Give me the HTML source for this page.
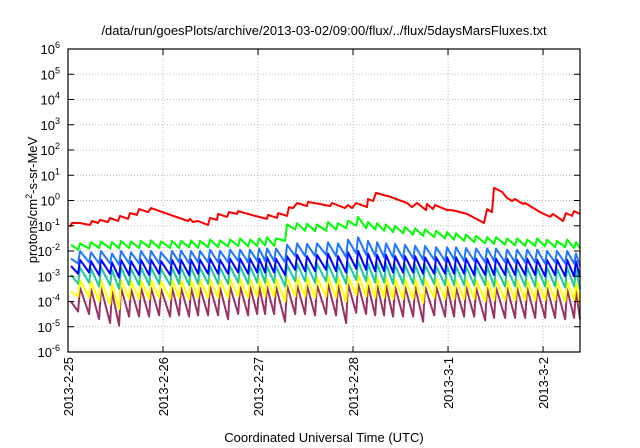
<!DOCTYPE html>
<html><head><meta charset="utf-8"><style>
html,body{margin:0;padding:0;background:#fff;}
svg{display:block;font-family:"Liberation Sans",sans-serif;}
</style></head><body>
<svg id="chart" width="640" height="448" viewBox="0 0 640 448" xmlns="http://www.w3.org/2000/svg">
<rect width="640" height="448" fill="#fff"/>
<text x="324" y="35" font-size="13" text-anchor="middle" fill="#000">/data/run/goesPlots/archive/2013-03-02/09:00/flux/../flux/5daysMarsFluxes.txt</text>
<g id="grid"></g>
<g id="series"></g>
<rect x="68" y="49" width="512" height="303" fill="none" stroke="#000" stroke-width="1.2"/>
<g id="axes"></g>
<text transform="translate(37,200) rotate(-90)" font-size="13" text-anchor="middle">protons/cm<tspan baseline-shift="super" font-size="9">2</tspan>-s-sr-MeV</text>
<text x="324" y="442" font-size="13" text-anchor="middle">Coordinated Universal Time (UTC)</text>
</svg>
<script>
const dayLabels = ["2013-2-25","2013-2-26","2013-2-27","2013-2-28","2013-3-1","2013-3-2"];
const decadeExps = [-6,-5,-4,-3,-2,-1,0,1,2,3,4,5,6];
const redDays = [0.021,0.042,0.126,0.232,0.253,0.316,0.337,0.421,0.442,0.526,0.547,0.632,0.653,0.726,0.747,0.842,0.874,1.263,1.284,1.316,1.368,1.474,1.495,1.568,1.579,1.674,1.695,1.779,1.789,1.968,2.095,2.105,2.2,2.211,2.305,2.326,2.368,2.411,2.516,2.526,2.653,2.758,2.779,2.832,2.916,2.947,2.989,3.032,3.147,3.158,3.211,3.242,3.358,3.368,3.568,3.621,3.674,3.768,3.779,3.842,3.863,3.989,4.042,4.126,4.2,4.379,4.411,4.463,4.484,4.568,4.621,4.674,4.705,4.789,4.811,4.968,5.074,5.105,5.211,5.242,5.305,5.326,5.389];
const redLog = [-1.05,-0.89,-0.89,-0.97,-0.81,-0.89,-0.77,-0.85,-0.69,-0.81,-0.61,-0.73,-0.50,-0.57,-0.34,-0.46,-0.30,-0.81,-0.73,-0.85,-0.81,-0.97,-0.69,-0.77,-0.53,-0.65,-0.46,-0.53,-0.42,-0.61,-0.73,-0.57,-0.69,-0.50,-0.61,-0.26,-0.30,-0.10,-0.22,-0.06,-0.14,-0.22,-0.10,-0.18,-0.30,-0.18,-0.30,-0.10,-0.26,0.06,-0.02,0.30,0.18,0.18,-0.10,-0.26,-0.10,-0.38,-0.14,-0.34,-0.18,-0.38,-0.38,-0.46,-0.53,-0.89,-0.34,-0.46,0.50,0.34,0.10,-0.02,0.06,-0.14,-0.10,-0.46,-0.65,-0.53,-0.81,-0.50,-0.61,-0.42,-0.53];
const toothDays = [0.032,0.126,0.242,0.347,0.463,0.558,0.663,0.768,0.874,0.979,1.095,1.189,1.295,1.389,1.495,1.6,1.705,1.811,1.916,2.011,2.095,2.189,2.305,2.411,2.516,2.621,2.737,2.842,2.947,3.053,3.158,3.253,3.347,3.442,3.547,3.653,3.758,3.874,3.989,4.084,4.189,4.295,4.411,4.505,4.621,4.726,4.832,4.937,5.042,5.147,5.253,5.347];
const endDay = 5.389;
const greenPeaks = [-1.75,-1.7,-1.65,-1.62,-1.65,-1.6,-1.62,-1.6,-1.58,-1.62,-1.6,-1.6,-1.58,-1.6,-1.55,-1.58,-1.55,-1.5,-1.55,-1.5,-1.45,-1.5,-0.95,-0.9,-0.92,-0.95,-0.85,-0.9,-0.8,-0.65,-0.85,-0.9,-0.95,-1.0,-1.05,-1.1,-1.15,-1.2,-1.25,-1.3,-1.35,-1.4,-1.45,-1.45,-1.5,-1.5,-1.55,-1.5,-1.55,-1.6,-1.55,-1.65];
const greenTroughs = [-1.95,-1.9,-1.88,-1.9,-1.9,-1.88,-1.88,-1.85,-1.88,-1.88,-1.88,-1.85,-1.88,-1.85,-1.85,-1.82,-1.8,-1.82,-1.8,-1.78,-1.8,-1.6,-1.15,-1.2,-1.22,-1.2,-1.15,-1.1,-1.0,-1.1,-1.15,-1.2,-1.25,-1.3,-1.35,-1.4,-1.45,-1.5,-1.55,-1.6,-1.65,-1.7,-1.72,-1.75,-1.78,-1.8,-1.8,-1.82,-1.85,-1.85,-1.88,-1.9];
const ltBluePeaks = [-2.3,-2.0,-2.05,-2.0,-2.1,-2.0,-2.05,-2.0,-2.0,-2.05,-2.0,-1.98,-2.0,-2.0,-1.95,-2.0,-1.95,-1.95,-1.95,-1.9,-1.9,-1.9,-1.75,-1.7,-1.72,-1.7,-1.65,-1.7,-1.55,-1.45,-1.6,-1.65,-1.7,-1.72,-1.75,-1.8,-1.8,-1.85,-1.85,-1.85,-1.88,-1.9,-1.9,-1.9,-1.95,-1.95,-1.95,-1.95,-2.0,-2.0,-2.0,-2.1];
const ltBlueTroughs = [-2.5,-2.45,-2.5,-2.5,-2.55,-2.5,-2.5,-2.5,-2.5,-2.5,-2.45,-2.5,-2.45,-2.45,-2.45,-2.45,-2.4,-2.45,-2.4,-2.4,-2.4,-2.45,-2.2,-2.2,-2.2,-2.15,-2.2,-2.25,-2.1,-2.15,-2.2,-2.25,-2.25,-2.3,-2.3,-2.35,-2.35,-2.4,-2.35,-2.4,-2.4,-2.45,-2.4,-2.45,-2.45,-2.45,-2.45,-2.5,-2.45,-2.5,-2.5,-2.6];
const dkBluePeaks = [-2.6,-2.35,-2.4,-2.35,-2.45,-2.35,-2.4,-2.35,-2.35,-2.4,-2.35,-2.35,-2.35,-2.35,-2.3,-2.35,-2.3,-2.3,-2.3,-2.3,-2.25,-2.3,-2.2,-2.15,-2.2,-2.15,-2.1,-2.2,-2.05,-2.0,-2.1,-2.15,-2.15,-2.2,-2.2,-2.2,-2.25,-2.25,-2.25,-2.25,-2.3,-2.3,-2.3,-2.3,-2.3,-2.35,-2.3,-2.35,-2.35,-2.35,-2.35,-2.4];
const dkBlueTroughs = [-2.9,-2.85,-2.95,-2.9,-3.05,-2.95,-2.95,-2.95,-2.9,-2.95,-2.9,-2.95,-2.9,-2.9,-2.9,-2.9,-2.85,-2.9,-2.85,-2.85,-2.85,-2.95,-2.75,-2.8,-2.8,-2.75,-2.8,-2.85,-2.7,-2.75,-2.8,-2.8,-2.85,-2.85,-2.85,-2.9,-2.9,-2.9,-2.9,-2.9,-2.95,-2.95,-2.95,-2.95,-2.95,-2.95,-2.95,-3.0,-2.95,-3.0,-3.0,-3.05];
const tealPeaks = [-2.95,-2.65,-2.7,-2.65,-2.75,-2.65,-2.7,-2.65,-2.65,-2.7,-2.65,-2.65,-2.65,-2.65,-2.6,-2.65,-2.6,-2.6,-2.6,-2.6,-2.6,-2.6,-2.55,-2.5,-2.55,-2.5,-2.5,-2.55,-2.45,-2.4,-2.5,-2.5,-2.5,-2.55,-2.55,-2.55,-2.55,-2.6,-2.6,-2.6,-2.6,-2.6,-2.6,-2.65,-2.65,-2.65,-2.65,-2.65,-2.65,-2.7,-2.65,-2.75];
const tealTroughs = [-3.3,-3.25,-3.4,-3.35,-3.5,-3.35,-3.35,-3.35,-3.3,-3.35,-3.3,-3.35,-3.3,-3.3,-3.3,-3.3,-3.25,-3.3,-3.25,-3.25,-3.25,-3.4,-3.2,-3.2,-3.25,-3.2,-3.25,-3.3,-3.15,-3.2,-3.25,-3.25,-3.3,-3.3,-3.3,-3.35,-3.3,-3.35,-3.35,-3.35,-3.35,-3.35,-3.4,-3.4,-3.4,-3.4,-3.4,-3.4,-3.4,-3.45,-3.4,-3.5];
const yellowPeaks = [-3.6,-3.15,-3.2,-3.15,-3.3,-3.15,-3.2,-3.15,-3.15,-3.2,-3.15,-3.15,-3.15,-3.15,-3.1,-3.15,-3.1,-3.1,-3.1,-3.1,-3.1,-3.1,-3.05,-3.05,-3.05,-3.05,-3.0,-3.05,-3.0,-2.95,-3.05,-3.05,-3.05,-3.1,-3.1,-3.1,-3.1,-3.1,-3.1,-3.15,-3.1,-3.15,-3.15,-3.15,-3.15,-3.15,-3.15,-3.2,-3.15,-3.2,-3.2,-3.25];
const yellowTroughs = [-3.8,-3.85,-4.0,-4.1,-4.3,-3.9,-3.9,-3.9,-3.85,-3.9,-3.85,-3.9,-3.85,-3.85,-3.85,-3.85,-3.8,-3.85,-3.8,-3.8,-3.8,-4.0,-3.8,-3.8,-3.85,-3.8,-3.85,-4.0,-3.75,-3.8,-3.85,-3.85,-3.9,-3.9,-3.9,-4.05,-3.85,-3.9,-3.9,-3.9,-3.9,-4.0,-3.95,-3.95,-3.95,-3.95,-3.95,-3.95,-3.95,-4.0,-3.95,-4.1];
const purplePeaks = [-4.0,-3.45,-3.5,-3.45,-3.6,-3.45,-3.5,-3.45,-3.45,-3.5,-3.45,-3.45,-3.45,-3.45,-3.4,-3.45,-3.4,-3.4,-3.4,-3.4,-3.4,-3.4,-3.35,-3.35,-3.35,-3.35,-3.3,-3.35,-3.3,-3.3,-3.35,-3.35,-3.35,-3.4,-3.4,-3.4,-3.4,-3.4,-3.4,-3.45,-3.4,-3.45,-3.45,-3.45,-3.45,-3.45,-3.45,-3.5,-3.45,-3.5,-3.5,-3.55];
const purpleTroughs = [-4.4,-4.5,-4.7,-4.85,-4.95,-4.6,-4.6,-4.6,-4.55,-4.6,-4.55,-4.6,-4.55,-4.55,-4.55,-4.7,-4.5,-4.55,-4.5,-4.5,-4.5,-4.8,-4.5,-4.5,-4.55,-4.5,-4.55,-4.85,-4.45,-4.5,-4.55,-4.55,-4.6,-4.6,-4.6,-4.8,-4.55,-4.6,-4.6,-4.6,-4.6,-4.75,-4.65,-4.65,-4.65,-4.65,-4.65,-4.65,-4.65,-4.7,-4.65,-4.7];

const NS = "http://www.w3.org/2000/svg";
const L = 68, R = 580, T = 49, B = 352;
const X_MIN = 0, X_MAX = 5.389, Y_MIN = -6, Y_MAX = 6;
function xScale(d){ return L + (d - X_MIN) / (X_MAX - X_MIN) * (R - L); }
function yScale(lg){ return B - (lg - Y_MIN) / (Y_MAX - Y_MIN) * (B - T); }
function mk(tag, attrs, parent){ const e = document.createElementNS(NS, tag); for (const k in attrs) e.setAttribute(k, attrs[k]); parent.appendChild(e); return e; }

const grid = document.getElementById("grid");
const axes = document.getElementById("axes");
decadeExps.forEach(function(ex){
  const y = yScale(ex);
  if (ex > Y_MIN && ex < Y_MAX) {
    const g = mk("line", {x1:L, x2:R, y1:y, y2:y, stroke:"#bbb", "stroke-width":1, "stroke-dasharray":"1,2"}, grid);
    
    
  }
  const t1 = mk("line", {x1:L, x2:L+6, y1:y, y2:y, stroke:"#000"}, axes);
  
  
  const t2 = mk("line", {x1:R-6, x2:R, y1:y, y2:y, stroke:"#000"}, axes);
  
  
  const lab = mk("text", {x:L-8, y:y+5, "font-size":13, "text-anchor":"end"}, axes);
  
  
  lab.appendChild(document.createTextNode("10"));
  const sup = mk("tspan", {dy:-6, "font-size":9}, lab);
  sup.textContent = String(ex);
});
dayLabels.forEach(function(lbl, i){
  const x = xScale(i);
  if (i > 0) {
    const g = mk("line", {x1:x, x2:x, y1:T, y2:B, stroke:"#bbb", "stroke-width":1, "stroke-dasharray":"1,2"}, grid);
    
    
  }
  const t1 = mk("line", {x1:x, x2:x, y1:B-6, y2:B, stroke:"#000"}, axes);
  
  
  const t2 = mk("line", {x1:x, x2:x, y1:T, y2:T+6, stroke:"#000"}, axes);
  
  
  const lab = mk("text", {transform:"translate("+(x+5)+","+(B+5)+") rotate(-90)", "font-size":13, "text-anchor":"end"}, axes);
  
  
  lab.textContent = lbl;
});

const seriesG = document.getElementById("series");
function drawPath(pts, color, name){
  const d = pts.map(function(p, i){ return (i ? "L" : "M") + xScale(p[0]).toFixed(1) + "," + yScale(p[1]).toFixed(1); }).join("");
  const p = mk("path", {d:d, fill:"none", stroke:color, "stroke-width":2, "stroke-linejoin":"round"}, seriesG);
  
  
}
function sawPoints(peaks, troughs){
  const pts = [];
  for (let i = 0; i < toothDays.length; i++) {
    pts.push([toothDays[i], peaks[i]]);
    const next = i + 1 < toothDays.length ? toothDays[i+1] - 0.02 : endDay;
    pts.push([next, troughs[i]]);
  }
  return pts;
}
drawPath(sawPoints(purplePeaks, purpleTroughs), "#993366", "series-purple");
drawPath(sawPoints(yellowPeaks, yellowTroughs), "#ffff00", "series-yellow");
drawPath(sawPoints(tealPeaks, tealTroughs), "#1ec8a0", "series-teal");
drawPath(sawPoints(dkBluePeaks, dkBlueTroughs), "#0000ff", "series-dark-blue");
drawPath(sawPoints(ltBluePeaks, ltBlueTroughs), "#2277ff", "series-light-blue");
drawPath(sawPoints(greenPeaks, greenTroughs), "#00ff00", "series-green");
drawPath(redDays.map(function(d, i){ return [d, redLog[i]]; }), "#ff0000", "series-red");
</script>
</body></html>
